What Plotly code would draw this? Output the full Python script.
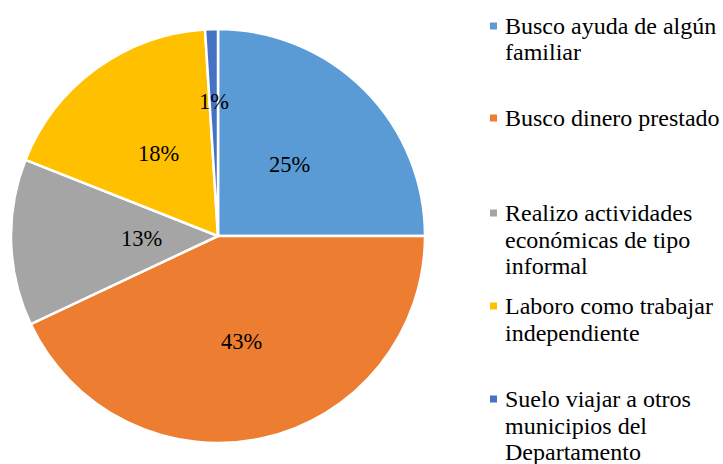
import math
import plotly.graph_objects as go

# ---- data ----
categories = [
    "Busco ayuda de algún familiar",
    "Busco dinero prestado",
    "Realizo actividades económicas de tipo informal",
    "Laboro como trabajar independiente",
    "Suelo viajar a otros municipios del Departamento",
]
values = [25, 43, 13, 18, 1]
legend_lines = [
    ["Busco ayuda de algún", "familiar"],
    ["Busco dinero prestado"],
    ["Realizo actividades", "económicas de tipo", "informal"],
    ["Laboro como trabajar", "independiente"],
    ["Suelo viajar a otros", "municipios del", "Departamento"],
]

# ---- style ----
colors = ["#5B9BD5", "#ED7D31", "#A5A5A5", "#FFC000", "#4472C4"]
W, H = 723, 464
CX, CY, R = 218, 236, 207
label_r = [0.49, 0.52, 0.37, 0.49, 0.65]
legend_first_y = [26, 118, 213, 306, 399]
line_gap = 26.5
FONT = "Liberation Serif, Times New Roman, serif"

fig = go.Figure(go.Pie(
    labels=categories,
    values=values,
    sort=False,
    direction="clockwise",
    rotation=0,
    marker=dict(colors=colors, line=dict(color="white", width=2.5)),
    textinfo="none",
    hoverinfo="label+percent",
    domain=dict(x=[(CX - R) / W, (CX + R) / W], y=[(H - CY - R) / H, (H - CY + R) / H]),
    showlegend=False,
))

annotations = []
shapes = []
total = sum(values)
cum = 0
for i, v in enumerate(values):
    mid = (cum + v / 2) / total * 2 * math.pi
    cum += v
    r = label_r[i] * R
    px = CX + r * math.sin(mid)
    py = CY - r * math.cos(mid)
    annotations.append(dict(
        x=px / W, y=1 - py / H, xref="paper", yref="paper",
        text=f"{round(v / total * 100)}%", showarrow=False,
        xanchor="center", yanchor="middle",
        font=dict(family=FONT, size=22.5, color="#000000"),
    ))

for i, lines in enumerate(legend_lines):
    y0 = legend_first_y[i]
    shapes.append(dict(
        type="rect", xref="paper", yref="paper",
        x0=490 / W, x1=497 / W,
        y0=1 - (y0 - 3.5) / H, y1=1 - (y0 + 3.5) / H,
        fillcolor=colors[i], line=dict(width=0),
    ))
    for j, ln in enumerate(lines):
        yy = y0 + j * line_gap
        annotations.append(dict(
            x=503 / W, y=1 - yy / H, xref="paper", yref="paper",
            text=ln, showarrow=False, xanchor="left", yanchor="middle",
            align="left",
            font=dict(family=FONT, size=24, color="#000000"),
        ))

fig.update_layout(
    width=W, height=H,
    margin=dict(l=0, r=0, t=0, b=0),
    paper_bgcolor="white", plot_bgcolor="white",
    annotations=annotations, shapes=shapes,
)

fig.write_html(
    "out.html",
    config={"displayModeBar": False},
    post_script="document.body.style.margin='0';document.body.style.overflow='hidden';",
)
